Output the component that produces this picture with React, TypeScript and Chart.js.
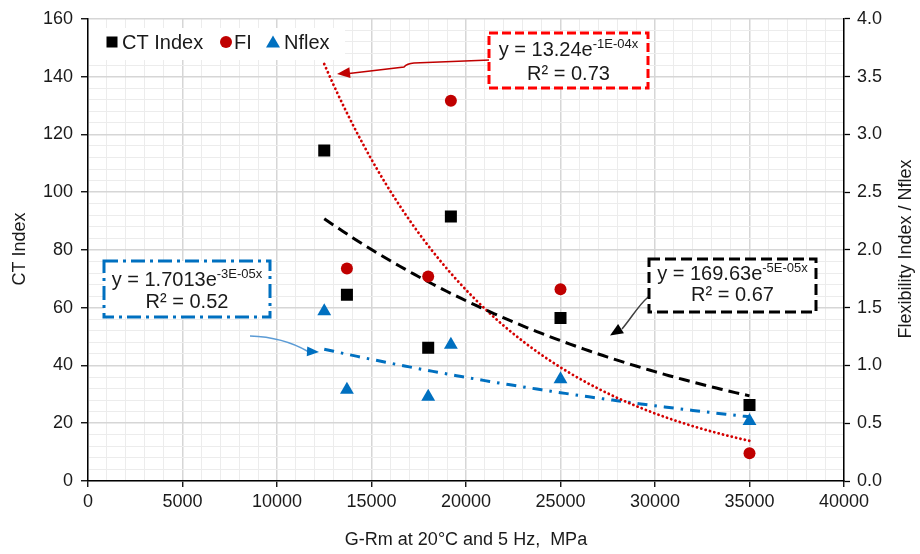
import React, { useEffect, useRef } from "react";
import { Chart, registerables } from "chart.js";

Chart.register(...registerables);

// ---------- data ----------
const gRm = [12500, 13700, 18000, 19200, 25000, 35000];
const ctIndex = [114.4, 64.5, 46.1, 91.6, 56.4, 26.3];
const fiValues: (number | null)[] = [null, 1.84, 1.77, 3.29, 1.66, 0.24];
const nflexValues = [1.47, 0.79, 0.73, 1.18, 0.88, 0.52];

// exponential trendline coefficients y = a * e^(-k x)
const ctFitA = 169.63;
const ctFitK = 5.0e-5;
const fiFitA = 13.24;
const fiFitK = 1.04e-4;
const nfFitA = 1.7013;
const nfFitK = 3.2e-5;
const fitFrom = 12500;
const fitTo = 35000;

const seriesNames = ["CT Index", "FI", "Nflex"];
const xTitle = "G-Rm at 20°C and 5 Hz,  MPa";
const yLeftTitle = "CT Index";
const yRightTitle = "Flexibility Index / Nflex";

const ctEqMain = "y = 169.63e";
const ctEqSup = "-5E-05x";
const ctR2 = "R² = 0.67";
const fiEqMain = "y = 13.24e";
const fiEqSup = "-1E-04x";
const fiR2 = "R² = 0.73";
const nfEqMain = "y = 1.7013e";
const nfEqSup = "-3E-05x";
const nfR2 = "R² = 0.52";

const FONT = "'Liberation Sans', Arial, sans-serif";
const BLACK = "#000000";
const RED = "#c00000";
const BLUE = "#0070c0";
const TEXT = "#1a1a1a";

function trend(a: number, k: number) {
  const pts: { x: number; y: number }[] = [];
  for (let x = fitFrom; x <= fitTo; x += 250) pts.push({ x, y: a * Math.exp(-k * x) });
  return pts;
}

function arrowHead(ctx: CanvasRenderingContext2D, tx: number, ty: number, fx: number, fy: number, len: number, hw: number, color: string) {
  const dx = tx - fx, dy = ty - fy;
  const d = Math.hypot(dx, dy) || 1;
  const ux = dx / d, uy = dy / d;
  const bx = tx - ux * len, by = ty - uy * len;
  ctx.save();
  ctx.fillStyle = color;
  ctx.beginPath();
  ctx.moveTo(tx, ty);
  ctx.lineTo(bx - uy * hw, by + ux * hw);
  ctx.lineTo(bx + uy * hw, by - ux * hw);
  ctx.closePath();
  ctx.fill();
  ctx.restore();
}

function eqBox(ctx: CanvasRenderingContext2D, x1: number, y1: number, x2: number, y2: number, color: string, dash: number[], main: string, sup: string, r2: string, l1: number, l2: number) {
  ctx.save();
  ctx.fillStyle = "#ffffff";
  ctx.fillRect(x1, y1, x2 - x1, y2 - y1);
  ctx.setLineDash(dash);
  ctx.lineWidth = 3;
  ctx.strokeStyle = color;
  ctx.strokeRect(x1, y1, x2 - x1, y2 - y1);
  ctx.setLineDash([]);
  ctx.fillStyle = TEXT;
  ctx.textBaseline = "middle";
  ctx.font = `20px ${FONT}`;
  const w1 = ctx.measureText(main).width;
  ctx.font = `13px ${FONT}`;
  const w2 = ctx.measureText(sup).width;
  const cx = (x1 + x2) / 2;
  const sx = cx - (w1 + w2) / 2;
  ctx.textAlign = "left";
  ctx.font = `20px ${FONT}`;
  ctx.fillText(main, sx, l1);
  ctx.font = `13px ${FONT}`;
  ctx.fillText(sup, sx + w1, l1 - 6);
  ctx.font = `20px ${FONT}`;
  ctx.textAlign = "center";
  ctx.fillText(r2, cx, l2);
  ctx.restore();
}

const overlayPlugin = {
  id: "overlay",
  afterDraw(chart: any) {
    const ctx: CanvasRenderingContext2D = chart.ctx;
    ctx.save();
    // axis titles
    ctx.fillStyle = TEXT;
    ctx.font = `18px ${FONT}`;
    ctx.textAlign = "center";
    ctx.textBaseline = "middle";
    ctx.fillText(xTitle, 466, 540);
    ctx.save();
    ctx.translate(20, 249);
    ctx.rotate(-Math.PI / 2);
    ctx.fillText(yLeftTitle, 0, 0);
    ctx.restore();
    ctx.save();
    ctx.translate(906, 249);
    ctx.rotate(-Math.PI / 2);
    ctx.fillText(yRightTitle, 0, 0);
    ctx.restore();

    // legend
    ctx.fillStyle = "#ffffff";
    ctx.fillRect(89, 28, 256, 32);
    ctx.fillStyle = BLACK;
    ctx.fillRect(106.5, 36.5, 11, 11);
    ctx.fillStyle = RED;
    ctx.beginPath();
    ctx.arc(226, 42, 6, 0, Math.PI * 2);
    ctx.fill();
    ctx.fillStyle = BLUE;
    ctx.beginPath();
    ctx.moveTo(273, 35.5);
    ctx.lineTo(280, 47.5);
    ctx.lineTo(266, 47.5);
    ctx.closePath();
    ctx.fill();
    ctx.fillStyle = TEXT;
    ctx.font = `20px ${FONT}`;
    ctx.textAlign = "left";
    ctx.textBaseline = "middle";
    ctx.fillText(seriesNames[0], 122, 43);
    ctx.fillText(seriesNames[1], 234, 43);
    ctx.fillText(seriesNames[2], 284, 43);

    // connectors
    ctx.lineWidth = 1.5;
    ctx.strokeStyle = RED;
    ctx.beginPath();
    ctx.moveTo(490, 60);
    ctx.lineTo(414, 63);
    ctx.quadraticCurveTo(407, 63.5, 404, 67);
    ctx.lineTo(349, 73.5);
    ctx.stroke();
    arrowHead(ctx, 337, 74, 404, 67, 13, 5.5, RED);

    ctx.strokeStyle = "#5b9bd5";
    ctx.beginPath();
    ctx.moveTo(250, 336);
    ctx.quadraticCurveTo(283, 337, 308, 351.5);
    ctx.stroke();
    arrowHead(ctx, 319, 352, 300, 351, 12, 5, BLUE);

    ctx.strokeStyle = "#404040";
    ctx.beginPath();
    ctx.moveTo(668, 289);
    ctx.bezierCurveTo(645, 291, 638, 310, 622, 329);
    ctx.stroke();
    arrowHead(ctx, 610, 335.5, 630, 323, 13, 5.5, "#000000");

    // equation boxes
    eqBox(ctx, 489, 33, 648, 88, "#ff0000", [9, 4], fiEqMain, fiEqSup, fiR2, 50, 74);
    eqBox(ctx, 104, 261, 270, 317, BLUE, [14, 5, 3, 5], nfEqMain, nfEqSup, nfR2, 280, 302);
    eqBox(ctx, 649, 259, 816, 312, "#000000", [11, 5], ctEqMain, ctEqSup, ctR2, 274, 295);
    ctx.restore();
  },
};

const isMajorX = (v: number) => Math.abs(v % 5000) < 1e-6;
const isMajorY = (v: number) => Math.abs(v % 20) < 1e-6;
const isMajorY1 = (v: number) => Math.abs(v * 2 - Math.round(v * 2)) < 1e-6;

export default function App() {
  const ref = useRef<HTMLCanvasElement | null>(null);
  useEffect(() => {
    if (!ref.current) return;
    const chart = new Chart(ref.current, {
      type: "scatter",
      data: {
        datasets: [
          {
            label: seriesNames[0],
            data: gRm.map((x, i) => ({ x, y: ctIndex[i] })),
            yAxisID: "y",
            pointStyle: "rect",
            pointRadius: 8.5,
            backgroundColor: BLACK,
            borderColor: BLACK,
            borderWidth: 0,
          },
          {
            label: seriesNames[1],
            data: gRm.map((x, i) => ({ x, y: fiValues[i] as any })),
            yAxisID: "y1",
            pointStyle: "circle",
            pointRadius: 6,
            backgroundColor: RED,
            borderColor: RED,
            borderWidth: 0,
          },
          {
            label: seriesNames[2],
            data: gRm.map((x, i) => ({ x, y: nflexValues[i] })),
            yAxisID: "y1",
            pointStyle: "triangle",
            pointRadius: 8,
            backgroundColor: BLUE,
            borderColor: BLUE,
            borderWidth: 0,
          },
          {
            label: "ct-fit",
            data: trend(ctFitA, ctFitK),
            yAxisID: "y",
            showLine: true,
            pointRadius: 0,
            borderColor: BLACK,
            borderWidth: 3,
            borderDash: [11, 6],
            fill: false,
          } as any,
          {
            label: "fi-fit",
            data: trend(fiFitA, fiFitK),
            yAxisID: "y1",
            showLine: true,
            pointRadius: 0,
            borderColor: "#d40000",
            borderWidth: 2.8,
            borderDash: [0.1, 4.4],
            borderCapStyle: "round",
            fill: false,
          } as any,
          {
            label: "nf-fit",
            data: trend(nfFitA, nfFitK),
            yAxisID: "y1",
            showLine: true,
            pointRadius: 0,
            borderColor: BLUE,
            borderWidth: 3,
            borderDash: [10, 7, 2.5, 7],
            fill: false,
          } as any,
        ],
      },
      options: {
        animation: false,
        responsive: false,
        events: [],
        layout: { padding: { top: 17, left: 0, right: 0, bottom: 0 } },
        plugins: { legend: { display: false }, tooltip: { enabled: false }, title: { display: false } },
        scales: {
          x: {
            type: "linear",
            position: "bottom",
            min: 0,
            max: 40000,
            ticks: {
              stepSize: 1000,
              autoSkip: false,
              maxRotation: 0,
              color: TEXT,
              font: { family: FONT, size: 18 },
              padding: 4,
              callback: (v: any) => (isMajorX(Number(v)) ? String(v) : ""),
            },
            grid: {
              color: (c: any) => (c.tick && isMajorX(c.tick.value) ? "#d6d6d6" : "#ececec"),
              lineWidth: (c: any) => (c.tick && isMajorX(c.tick.value) ? 1.5 : 1),
              tickColor: (c: any) => (c.tick && isMajorX(c.tick.value) ? "#000" : "rgba(0,0,0,0)"),
              tickLength: 6,
              tickWidth: 1.3,
            },
            border: { color: "#000", width: 1.5 },
            afterFit: (s: any) => {
              s.height = 73;
            },
          },
          y: {
            type: "linear",
            position: "left",
            min: 0,
            max: 160,
            ticks: {
              stepSize: 4,
              autoSkip: false,
              color: TEXT,
              font: { family: FONT, size: 18 },
              padding: 8,
              callback: (v: any) => (isMajorY(Number(v)) ? String(v) : ""),
            },
            grid: {
              color: (c: any) => (c.tick && isMajorY(c.tick.value) ? "#d6d6d6" : "#ececec"),
              lineWidth: (c: any) => (c.tick && isMajorY(c.tick.value) ? 1.5 : 1),
              tickColor: (c: any) => (c.tick && isMajorY(c.tick.value) ? "#000" : "rgba(0,0,0,0)"),
              tickLength: 7,
              tickWidth: 1.3,
            },
            border: { color: "#000", width: 1.5 },
            afterFit: (s: any) => {
              s.width = 88;
            },
          },
          y1: {
            type: "linear",
            position: "right",
            min: 0,
            max: 4,
            ticks: {
              stepSize: 0.1,
              autoSkip: false,
              color: TEXT,
              font: { family: FONT, size: 18 },
              padding: 7,
              callback: (v: any) => (isMajorY1(Number(v)) ? Number(v).toFixed(1) : ""),
            },
            grid: {
              drawOnChartArea: false,
              tickColor: (c: any) => (c.tick && isMajorY1(c.tick.value) ? "#000" : "rgba(0,0,0,0)"),
              tickLength: 6,
              tickWidth: 1.3,
            },
            border: { color: "#000", width: 1.5 },
            afterFit: (s: any) => {
              s.width = 76;
            },
          },
        },
      } as any,
      plugins: [overlayPlugin],
    });
    return () => chart.destroy();
  }, []);

  return (
    <div style={{ position: "fixed", left: 0, top: 0, width: 920, height: 554, background: "#fff" }}>
      <canvas ref={ref} width={920} height={554} style={{ display: "block" }} />
    </div>
  );
}
